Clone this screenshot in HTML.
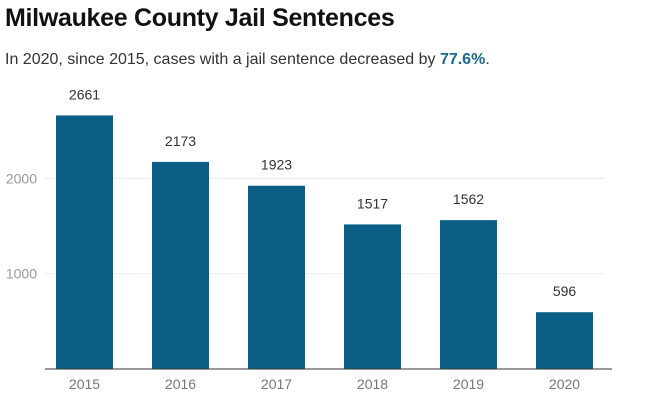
<!DOCTYPE html>
<html><head><meta charset="utf-8"><style>
body{margin:0;background:#fff;width:658px;height:410px;overflow:hidden;font-family:"Liberation Sans",sans-serif}
#t{position:absolute;left:5px;top:4px;font-size:25px;font-weight:bold;color:#111;letter-spacing:-0.3px}
#s{position:absolute;left:5px;top:51px;font-size:16px;color:#333}
#s b{color:#1a6a8f}
svg{position:absolute;left:0;top:0}
</style></head><body>
<div id="t">Milwaukee County Jail Sentences</div>
<div id="s">In 2020, since 2015, cases with a jail sentence decreased by <b>77.6%</b>.</div>
<svg id="c" width="658" height="410"></svg>
<script>
const categories=["2015","2016","2017","2018","2019","2020"];
const values=[2661,2173,1923,1517,1562,596];
const ticks=[1000,2000];
const svg=document.getElementById('c');const NS='http://www.w3.org/2000/svg';
const y0=369,k=0.0953;
function y(v){return y0-v*k;}
function x(i){return 84.5+i*96;}
const bw=57;
function mk(t,a,txt){const e=document.createElementNS(NS,t);for(const n in a)e.setAttribute(n,a[n]);if(txt!=null)e.textContent=txt;svg.appendChild(e);return e;}
ticks.forEach(v=>{
const g=mk('line',{x1:45,x2:605,y1:y(v),y2:y(v),stroke:'#ececec','stroke-width':1});


const l=mk('text',{x:37,y:y(v)+5,'text-anchor':'end','font-size':14,fill:'#999','font-family':'Liberation Sans'},v);


});
categories.forEach((c,i)=>{
const r=mk('rect',{x:x(i)-bw/2,y:y(values[i]),width:bw,height:y0-y(values[i]),fill:'#0b5f87'});


const v=mk('text',{x:x(i),y:y(values[i])-16,'text-anchor':'middle','font-size':14,fill:'#333','font-family':'Liberation Sans'},values[i]);


const l=mk('text',{x:x(i),y:389,'text-anchor':'middle','font-size':14,fill:'#777','font-family':'Liberation Sans'},c);


});
const ax=mk('line',{x1:45,x2:612,y1:y0,y2:y0,stroke:'#333','stroke-width':1});


</script>
</body></html>
